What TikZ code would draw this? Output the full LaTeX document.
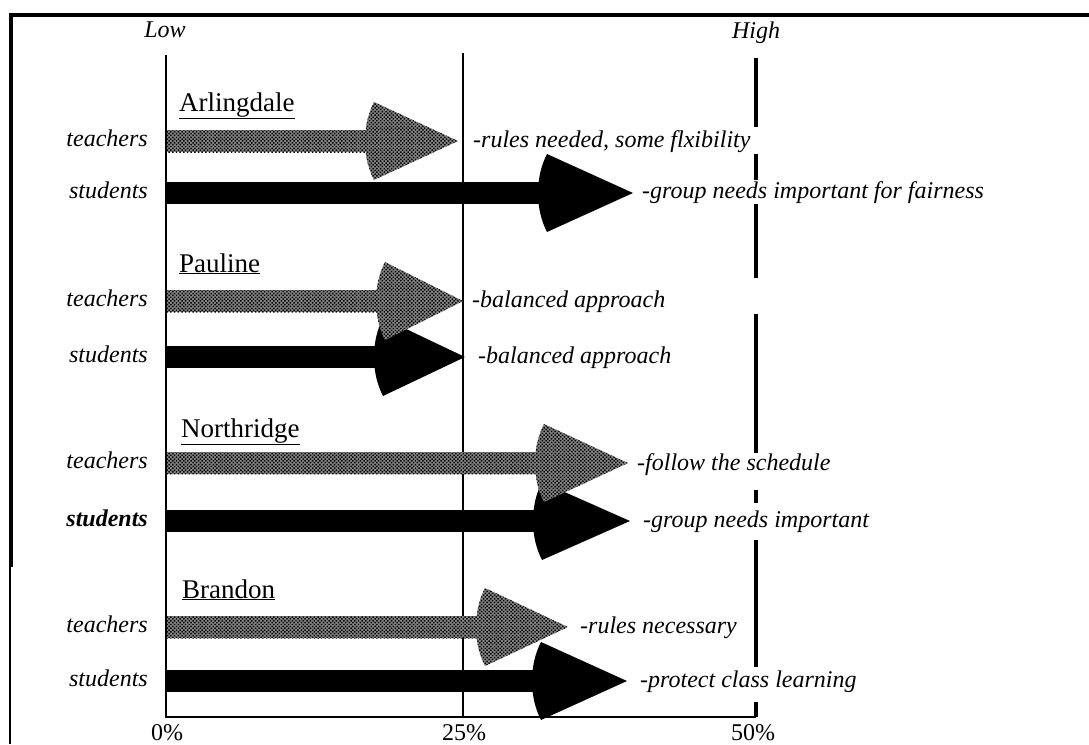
\documentclass[tikz,border=0pt]{standalone}
\usepackage{fontspec}
\setmainfont{Liberation Serif}
\usetikzlibrary{patterns.meta}
\begin{document}
\begin{tikzpicture}[x=1pt,y=-1pt,
  lbl/.style={inner sep=0pt, font=\fontsize{24}{28}\selectfont\itshape},
  hdr/.style={inner sep=0pt, font=\fontsize{27}{30}\selectfont, anchor=base west},
  pct/.style={inner sep=0pt, font=\fontsize{24}{28}\selectfont, anchor=base},
  rowlbl/.style={lbl, anchor=base east},
  note/.style={lbl, anchor=base west},
  frame/.style={line width=3.2pt},
  axis/.style={line width=2.5pt},
  stdfill/.style={fill=black},
  tchfill/.style={fill=black!48, postaction={pattern={Dots[distance=2.6pt, radius=1.05pt, angle=45]}, pattern color=black}}
]
\useasboundingbox (0,0) rectangle (1089,744);

% frame
\draw[frame] (9,15) -- (1089,15);
\draw[line width=3.5pt] (11,13.5) -- (11,567);
\draw[line width=1.6pt] (10,567) -- (10,744);

% scale
\coordinate (o0) at (166,55);
\coordinate (b0) at (166,717);
\coordinate (o25) at (463,53);
\coordinate (b25) at (463,717);
\coordinate (b50) at (756,717);
\draw[axis] (o0) -- (b0) -- (b50);
\draw[axis] (o25) -- (b25);
\foreach \a/\b in {58/127,154/180,204/278,314/453,490/503,540/667,702/717}
  \draw[line width=3.8pt] (756,\a) -- (756,\b);

\node[lbl, anchor=base] (low) at (165,37) {Low};
\node[lbl, anchor=base] (high) at (756,38) {High};
\node[pct] (p0) at (167,740) {0\%};
\node[pct] (p25) at (464,740) {25\%};
\node[pct] (p50) at (753,740) {50\%};

% one bar with its arrowhead: #1 style, #2 centre y, #3 back of head, #4 tip
\newcommand\drawbar[4]{%
  \path[#1] (167,#2-11) rectangle (#3+6,#2+11);
  \path[#1] (#3+9,#2-39) .. controls (#3-3,#2-16) and (#3-3,#2+16) .. (#3+9,#2+39)
     -- (#4,#2) -- cycle;
}

% Arlingdale
\node[hdr] (hA) at (179,111) {\underline{Arlingdale}};
\node[rowlbl] (tA) at (148,146) {teachers};
\node[rowlbl] (sA) at (148,198) {students};
\drawbar{stdfill}{193}{538}{633}
\drawbar{tchfill}{141}{365}{458}
\node[note] (ntA) at (473,147) {-rules needed, some flxibility};
\node[note] (nsA) at (642,198) {-group needs important for fairness};

% Pauline
\node[hdr] (hP) at (179,272) {\underline{Pauline}};
\node[rowlbl] (tP) at (148,306) {teachers};
\node[rowlbl] (sP) at (148,362) {students};
\drawbar{stdfill}{357}{374}{465}
\drawbar{tchfill}{301}{376}{463}
\node[note] (ntP) at (472,307) {-balanced approach};
\node[note] (nsP) at (478,363) {-balanced approach};

% Northridge
\node[hdr] (hN) at (181,437) {\underline{Northridge}};
\node[rowlbl] (tN) at (148,468) {teachers};
\node[rowlbl] (sN) at (148,526) {\bfseries students};
\drawbar{stdfill}{521}{533}{630}
\drawbar{tchfill}{463}{535}{628}
\node[note] (ntN) at (637,470) {-follow the schedule};
\node[note] (nsN) at (643,527) {-group needs important};

% Brandon
\node[hdr] (hB) at (182,598) {\underline{Brandon}};
\node[rowlbl] (tB) at (148,632) {teachers};
\node[rowlbl] (sB) at (148,686) {students};
\drawbar{stdfill}{681}{532}{627}
\drawbar{tchfill}{627}{476}{568}
\node[note] (ntB) at (580,633) {-rules necessary};
\node[note] (nsB) at (640,687) {-protect class learning};
\end{tikzpicture}
\end{document}
